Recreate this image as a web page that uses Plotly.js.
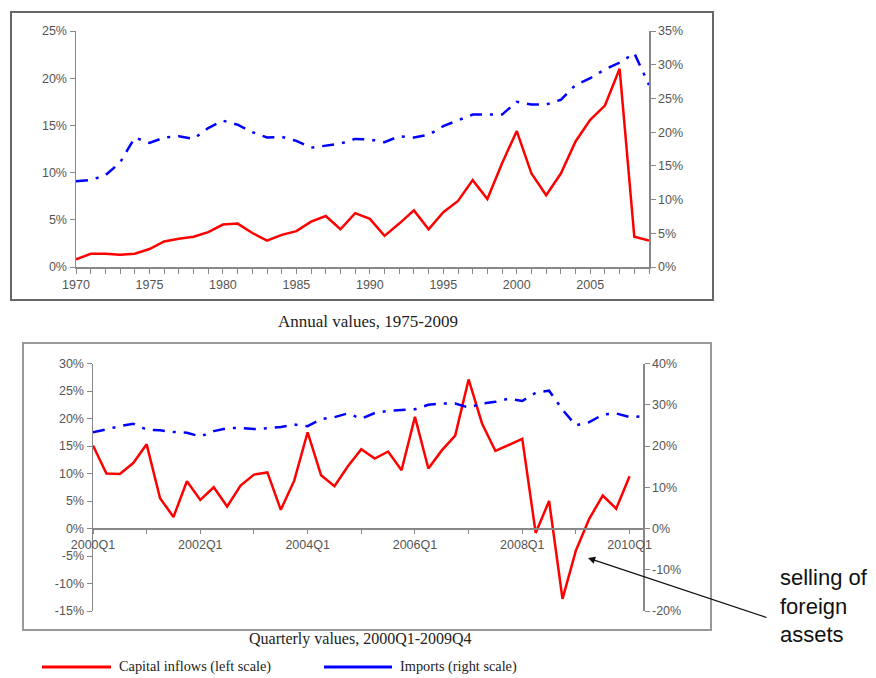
<!DOCTYPE html>
<html>
<head>
<meta charset="utf-8">
<script src="https://cdn.plot.ly/plotly-3.0.1.min.js"></script>
<style>html,body{margin:0;padding:0;background:#fff;}#chart{width:876px;height:678px;}</style>
</head>
<body>
<div id="chart"></div>
<script>
// ---- Annual data (1970-2009) ----
const years = [1970,1971,1972,1973,1974,1975,1976,1977,1978,1979,1980,1981,1982,1983,1984,1985,1986,1987,1988,1989,
               1990,1991,1992,1993,1994,1995,1996,1997,1998,1999,2000,2001,2002,2003,2004,2005,2006,2007,2008,2009];
const annualCapital = [0.8,1.4,1.4,1.3,1.4,1.9,2.7,3.0,3.2,3.7,4.5,4.6,3.6,2.8,3.4,3.8,4.8,5.4,4.0,5.7,
                       5.1,3.3,4.6,6.0,4.0,5.8,7.0,9.2,7.2,11.0,14.4,9.9,7.6,9.9,13.3,15.6,17.1,21.0,3.2,2.8];
const annualImports = [12.7,12.9,13.6,15.5,19.2,18.4,19.2,19.4,19.0,20.6,21.7,21.1,20.0,19.2,19.3,18.7,17.7,18.0,18.3,19.0,
                       18.9,18.5,19.4,19.2,19.6,20.9,21.8,22.6,22.6,22.6,24.5,24.1,24.1,24.8,27.0,28.0,29.3,30.3,31.7,27.0];
const annualXLabels = [1970,1975,1980,1985,1990,1995,2000,2005];

// ---- Quarterly data ----
const quarters = [];
for (let y = 2000; y <= 2010; y++) for (let q = 1; q <= 4; q++) quarters.push(y + "Q" + q);
quarters.length = 42;
const quarterlyCapital = [15.1,10.0,9.9,11.9,15.3,5.5,2.1,8.6,5.2,7.5,4.0,7.8,9.8,10.2,3.4,8.7,17.5,9.7,7.7,11.3,
                          14.4,12.7,14.0,10.6,20.3,10.9,14.2,16.9,27.1,19.1,14.1,15.2,16.3,-0.8,5.0,-12.8,-4.0,1.8,6.0,3.6,9.5];
const quarterlyImports = [23.3,24.1,24.8,25.4,24.0,23.8,23.4,23.2,22.3,23.6,24.3,24.4,24.1,24.3,24.6,25.2,24.8,26.5,27.0,27.9,
                          26.6,28.0,28.5,28.7,28.9,30.0,30.3,30.3,29.3,30.3,30.7,31.5,30.9,32.9,33.4,28.8,25.0,25.8,27.6,27.9,27.0,27.2];
const quarterLabels = ["2000Q1","2002Q1","2004Q1","2006Q1","2008Q1","2010Q1"];

const leftTop = [0,5,10,15,20,25];
const rightTop = [0,5,10,15,20,25,30,35];
const leftBottom = [-15,-10,-5,0,5,10,15,20,25,30];
const rightBottom = [-20,-10,0,10,20,30,40];

const W = 876, H = 678;
const px = v => v / W;
const py = v => 1 - v / H;

const tickFont = {family: "Liberation Sans, Arial, sans-serif", size: 12.5, color: "#555"};
const serif = "Liberation Serif, Times New Roman, serif";
const RED = "#ff0000", BLUE = "#0000ff";

const data = [
  {x: years, y: annualCapital, xaxis: "x", yaxis: "y", mode: "lines", line: {color: RED, width: 2.5}, showlegend: false},
  {x: years, y: annualImports, xaxis: "x", yaxis: "y2", mode: "lines", line: {color: BLUE, width: 2.5, dash: "12px,8px,3px,8px"}, showlegend: false},
  {x: quarters.slice(0, quarterlyCapital.length), y: quarterlyCapital, xaxis: "x3", yaxis: "y3", mode: "lines", line: {color: RED, width: 2.5}, showlegend: false},
  {x: quarters.slice(0, quarterlyImports.length), y: quarterlyImports, xaxis: "x3", yaxis: "y4", mode: "lines", line: {color: BLUE, width: 2.5, dash: "12px,8px,3px,8px"}, showlegend: false}
];

const axLine = {showline: true, linecolor: "#888", linewidth: 1.5, showgrid: false, zeroline: false,
                ticks: "outside", ticklen: 5, tickcolor: "#888", tickwidth: 1, tickfont: tickFont};

const layout = {
  width: W, height: H,
  margin: {l: 0, r: 0, t: 0, b: 0},
  paper_bgcolor: "#fff", plot_bgcolor: "rgba(0,0,0,0)",
  showlegend: false,
  xaxis: Object.assign({}, axLine, {
    domain: [px(76), px(649)], anchor: "y", range: [1970, 2009],
    tickmode: "array", tickvals: years.concat([]),
    ticktext: years.map(v => annualXLabels.includes(v) ? String(v) : ""),
    ticklen: 5
  }),
  yaxis: Object.assign({}, axLine, {
    domain: [py(267), py(31)], anchor: "x", range: [0, 25],
    tickmode: "array", tickvals: leftTop, ticktext: leftTop.map(v => v + "%")
  }),
  yaxis2: Object.assign({}, axLine, {
    overlaying: "y", side: "right", anchor: "x", range: [0, 35],
    tickmode: "array", tickvals: rightTop, ticktext: rightTop.map(v => v + "%")
  }),
  xaxis3: Object.assign({}, axLine, {
    domain: [px(93), px(643)], anchor: "free", position: py(528), type: "category",
    categoryorder: "array", categoryarray: quarters, range: [0, 41],
    tickmode: "array", tickvals: quarters.filter((q, i) => i % 4 === 0 && i <= 40),
    ticktext: quarters.filter((q, i) => i % 4 === 0 && i <= 40).map(q => quarterLabels.includes(q) ? q : ""),
    ticklen: 4
  }),
  yaxis3: Object.assign({}, axLine, {
    domain: [py(611), py(363.5)], anchor: "x3", range: [-15, 30],
    tickmode: "array", tickvals: leftBottom, ticktext: leftBottom.map(v => v + "%")
  }),
  yaxis4: Object.assign({}, axLine, {
    overlaying: "y3", side: "right", anchor: "x3", range: [-20, 40],
    tickmode: "array", tickvals: rightBottom, ticktext: rightBottom.map(v => v + "%")
  }),
  shapes: [
    {type: "rect", xref: "paper", yref: "paper", x0: px(11), x1: px(713), y0: py(300), y1: py(12), line: {color: "#666", width: 2}},
    {type: "rect", xref: "paper", yref: "paper", x0: px(23), x1: px(711), y0: py(630), y1: py(343), line: {color: "#999", width: 2}},
    {type: "line", xref: "paper", yref: "paper", x0: px(42), x1: px(111), y0: py(667), y1: py(667), line: {color: RED, width: 3}},
    {type: "line", xref: "paper", yref: "paper", x0: px(324), x1: px(392), y0: py(667), y1: py(667), line: {color: BLUE, width: 3}}
  ],
  annotations: [
    {xref: "paper", yref: "paper", x: px(368), y: py(321), text: "Annual values, 1975-2009", showarrow: false,
     font: {family: serif, size: 17, color: "#222"}, xanchor: "center", yanchor: "middle"},
    {xref: "paper", yref: "paper", x: px(360), y: py(639), text: "Quarterly values, 2000Q1-2009Q4", showarrow: false,
     font: {family: serif, size: 16, color: "#222"}, xanchor: "center", yanchor: "middle"},
    {xref: "paper", yref: "paper", x: px(117), y: py(666), text: "Capital inflows (left scale)", showarrow: false,
     font: {family: serif, size: 14.3, color: "#222"}, xanchor: "left", yanchor: "middle"},
    {xref: "paper", yref: "paper", x: px(398), y: py(666), text: "Imports (right scale)", showarrow: false,
     font: {family: serif, size: 14.3, color: "#222"}, xanchor: "left", yanchor: "middle"},
    {xref: "paper", yref: "paper", x: px(778), y: py(606), text: "selling of<br>foreign<br>assets", showarrow: false, align: "left",
     font: {family: "Liberation Sans, Arial, sans-serif", size: 22, color: "#111"}, xanchor: "left", yanchor: "middle"},
    {xref: "paper", yref: "paper", x: px(588), y: py(558), ax: px(768), ay: py(618), axref: "paper", ayref: "paper",
     text: "", showarrow: true, arrowhead: 2, arrowsize: 1.2, arrowwidth: 1.2, arrowcolor: "#111"}
  ]
};

Plotly.newPlot("chart", data, layout, {staticPlot: true, displayModeBar: false});
</script>
</body>
</html>
